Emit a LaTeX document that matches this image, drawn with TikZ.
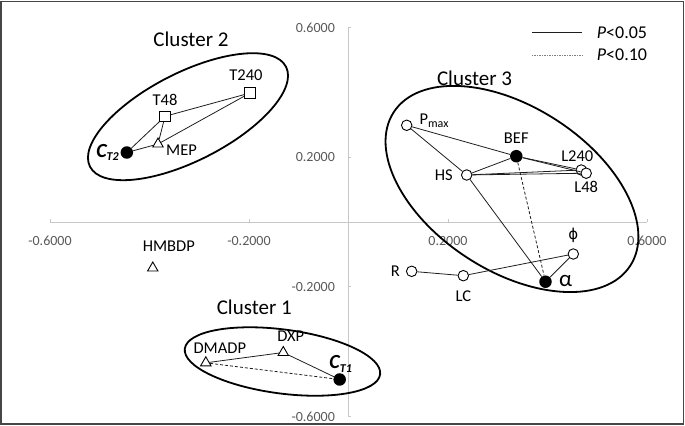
\documentclass[tikz,border=0pt]{standalone}
\usepackage{fontspec}
\setmainfont{Carlito}
\newfontfamily\greekfont{DejaVu Sans}
\usepackage{xcolor}
\usepackage{tikz}
\usetikzlibrary{positioning,shapes.geometric}
\definecolor{framegray}{RGB}{70,70,70}
\definecolor{axisgray}{RGB}{200,200,200}
\definecolor{ticktext}{RGB}{89,89,89}
\definecolor{linkgray}{RGB}{30,30,30}
\newcommand{\sub}[1]{\raisebox{-3.5pt}{\fontsize{12}{13}\selectfont #1}}

\begin{document}
\begin{tikzpicture}[x=497.5pt,y=324pt,
	opendot/.style={circle,draw,fill=white,line width=0.9pt,minimum size=10.5pt,inner sep=0pt},
	fulldot/.style={circle,fill=black,minimum size=12.5pt,inner sep=0pt},
	sqbox/.style={rectangle,draw,fill=white,line width=0.9pt,minimum size=10.5pt,inner sep=0pt},
	tri/.style={regular polygon,regular polygon sides=3,draw,fill=white,line width=0.9pt,minimum size=12pt,inner sep=0pt},
	lbl/.style={font=\fontsize{16.5}{18}\selectfont,inner sep=0pt},
	bigc/.style={font=\fontsize{20}{22}\selectfont\bfseries\itshape,inner sep=0pt},
	clabel/.style={font=\fontsize{21}{24}\selectfont,anchor=base,inner sep=0pt},
	ticklbl/.style={font=\fontsize{14}{16}\selectfont,text=ticktext,inner sep=0pt},
	axis/.style={draw=axisgray,line width=0.9pt},
	ring/.style={line width=1.8pt},
	link/.style={draw=linkgray,line width=0.8pt},
	plink/.style={link,dash pattern=on 3pt off 2pt}]
		\useasboundingbox (-0.7005,-0.6296) rectangle (0.6764,0.6852);
		\draw[draw=framegray,line width=1.5pt] (-0.6985,-0.6235) rectangle (0.6734,0.6806);
		\draw[axis] (-0.6,0) -- (0.6,0);
		\draw[axis] (0,-0.6) -- (0,0.6);
		\foreach \v in {-0.6,-0.2,0.2,0.6} {
			\draw[axis] (\v,0) -- ++(0,0.0093);
			\draw[axis] (0,\v) -- ++(0.006,0);
		}
		\node[ticklbl,anchor=base] (xa) at (-0.6,-0.071) {-0.6000};
		\node[ticklbl,anchor=base] (xb) at (-0.2,-0.071) {-0.2000};
		\node[ticklbl,anchor=base] (xc) at (0.2,-0.071) {0.2000};
		\node[ticklbl,anchor=base] (xd) at (0.6,-0.071) {0.6000};
		\node[ticklbl,anchor=east] (ya) at (-0.027,0.6) {0.6000};
		\node[ticklbl,anchor=east] (yb) at (-0.027,0.2) {0.2000};
		\node[ticklbl,anchor=east] (yc) at (-0.027,-0.2) {-0.2000};
		\node[ticklbl,anchor=east] (yd) at (-0.027,-0.6) {-0.6000};
		% legend
		\coordinate (s1) at (0.3685,0.5843);
		\coordinate (e1) at (0.4690,0.5843);
		\coordinate (s2) at (0.3685,0.5154);
		\coordinate (e2) at (0.4714,0.5154);
		\draw[link] (s1) -- (e1);
		\draw[draw=gray,line width=0.8pt,dash pattern=on 1.5pt off 1pt] (s2) -- (e2);
		\node[font=\fontsize{18}{20}\selectfont,anchor=base west,inner sep=0pt] (p05) at (0.4989,0.5664) {\textit{P}<0.05};
		\node[font=\fontsize{18}{20}\selectfont,anchor=base west,inner sep=0pt] (p10) at (0.4989,0.5) {\textit{P}<0.10};
		% clusters
		\draw[ring,rotate around={27:(-0.3226,0.3250)}] (-0.3226,0.3250) ellipse [x radius=110pt,y radius=44pt];
		\draw[ring,rotate around={-33:(0.3286,0.1019)}] (0.3286,0.1019) ellipse [x radius=141pt,y radius=82pt];
		\draw[ring,rotate around={-7.5:(-0.1327,-0.4306)}] (-0.1327,-0.4306) ellipse [x radius=98.5pt,y radius=32pt];
		\node[clabel] (cl2) at (-0.3166,0.5432) {Cluster 2};
		\node[clabel] (cl3) at (0.2533,0.4198) {Cluster 3};
		\node[clabel] (cl1) at (-0.1894,-0.2870) {Cluster 1};
		% cluster 2
		\node[fulldot] (ct2) at (-0.4456,0.2145) {};
		\node[sqbox] (t48) at (-0.3688,0.3262) {};
		\node[sqbox] (t240) at (-0.1980,0.3981) {};
		\node[tri] (mep) at (-0.3829,0.2407) {};
		\node[bigc,left=1.5pt of ct2] (ct2l) {C\sub{T2}};
		\node[lbl,above=5pt of t48] (t48l) {T48};
		\node[lbl,above=7pt of t240,xshift=-4pt] (t240l) {T240};
		\node[lbl,right=4pt of mep,yshift=-6pt] (mepl) {MEP};
		\draw[link] (ct2) -- (t48);
		\draw[link] (ct2) -- (mep);
		\draw[link] (t48) -- (mep);
		\draw[link] (t48) -- (t240);
		\draw[link] (mep) -- (t240);
		% cluster 1
		\node[tri] (hmbdp) at (-0.3934,-0.1420) {};
		\node[tri] (dmadp) at (-0.2868,-0.4346) {};
		\node[tri] (dxp) at (-0.1311,-0.4028) {};
		\node[fulldot] (ct1) at (-0.0177,-0.4861) {};
		\node[lbl,above=9pt of hmbdp,xshift=16pt] (hmbdpl) {HMBDP};
		\node[lbl,above=2pt of dmadp,xshift=14pt] (dmadpl) {DMADP};
		\node[lbl,above=4pt of dxp,xshift=7.5pt] (dxpl) {DXP};
		\node[bigc,above=0.5pt of ct1,xshift=1pt] (ct1l) {C\sub{T1}};
		\draw[link] (dmadp) -- (dxp);
		\draw[link] (dxp) -- (ct1);
		\draw[plink] (dmadp) -- (ct1);
		% cluster 3
		\node[opendot] (pmax) at (0.1170,0.2985) {};
		\node[fulldot] (bef) at (0.3373,0.2031) {};
		\node[opendot] (hs) at (0.2376,0.1451) {};
		\node[opendot] (l240) at (0.4679,0.1605) {};
		\node[opendot] (l48) at (0.4778,0.1506) {};
		\node[fulldot] (alp) at (0.3960,-0.1843) {};
		\node[opendot] (phi) at (0.4519,-0.0988) {};
		\node[opendot] (lc) at (0.2308,-0.1657) {};
		\node[opendot] (r) at (0.1270,-0.1522) {};
		\node[lbl,right=7pt of pmax,yshift=4.5pt] (pmaxl) {P\sub{max}};
		\node[lbl,above=6pt of bef] (befl) {BEF};
		\node[lbl,left=8pt of hs] (hsl) {HS};
		\node[lbl,above=2pt of l240,xshift=-4pt] (l240l) {L240};
		\node[lbl,below=2.5pt of l48] (l48l) {L48};
		\node[lbl,font=\fontsize{23}{24}\selectfont,right=7pt of alp,yshift=1pt] (alpl) {α};
		\node[lbl,font=\fontsize{15}{18}\selectfont\greekfont,above=5pt of phi] (phil) {ϕ};
		\node[lbl,below=9pt of lc] (lcl) {LC};
		\node[lbl,left=6pt of r] (rl) {R};
		\draw[link] (pmax) -- (bef);
		\draw[link] (pmax) -- (hs);
		\draw[link] (hs) -- (bef);
		\draw[link] (bef) -- (l240);
		\draw[link] (bef) -- (l48);
		\draw[link] (hs) -- (l240);
		\draw[link] (hs) -- (l48);
		\draw[link] (hs) -- (alp);
		\draw[plink] (bef) -- (alp);
		\draw[link] (alp) -- (phi);
		\draw[link] (phi) -- (lc);
		\draw[link] (lc) -- (r);
	\end{tikzpicture}
\end{document}
